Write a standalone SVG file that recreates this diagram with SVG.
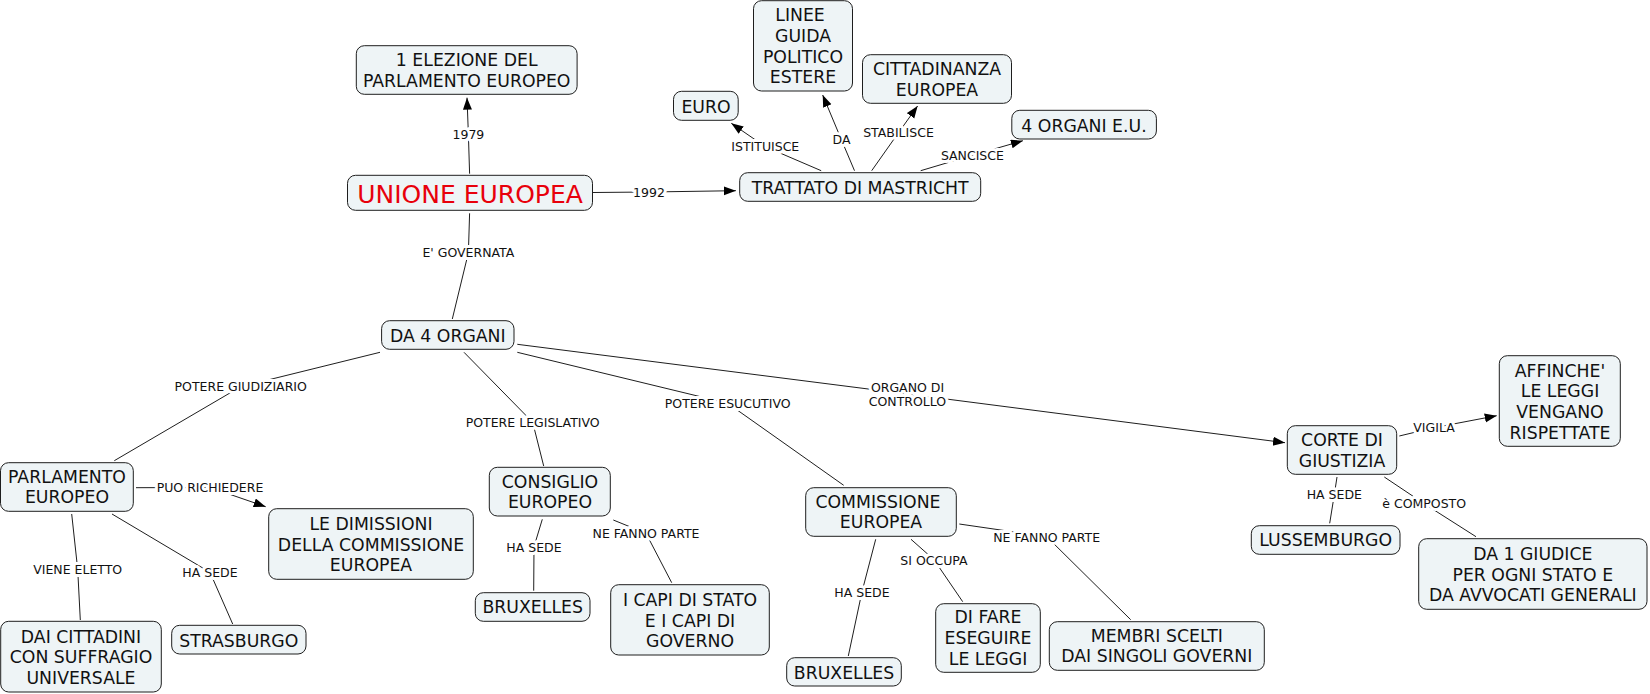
<svg xmlns="http://www.w3.org/2000/svg" width="1650" height="694" viewBox="0 0 1650 694">
<style>
.node rect{fill:#eef4f6;stroke:#1e1e1e;stroke-width:1}
.node text{font-family:"DejaVu Sans",Verdana,sans-serif;font-size:17.3px;fill:#111;text-anchor:middle}
.title{font-size:25px!important;fill:#e8000b!important}
.conn path{fill:none;stroke:#1e1e1e;stroke-width:1}
.conn .arr{marker-end:url(#ah)}
.lbl{font-family:"DejaVu Sans",Verdana,sans-serif;font-size:12.5px;fill:#111;text-anchor:middle;paint-order:stroke;stroke:#fff;stroke-width:6px;stroke-linejoin:round}
</style>
<defs>
<marker id="ah" markerUnits="userSpaceOnUse" markerWidth="13" markerHeight="10" refX="12" refY="4.5" orient="auto">
<path d="M0,0 L12,4.5 L0,9 z" fill="#000"/>
</marker>
</defs>
<rect width="1650" height="694" fill="#fff"/>
<g id="connectors" class="conn">
<path class="arr" d="M469.6,173.7 L468.4,134.7 L467,97.7"/>
<path class="arr" d="M593,192.5 L649,192 L735.9,190.7"/>
<path d="M469.6,213.3 L468.4,252.7 L452.3,319"/>
<path class="arr" d="M821.2,170.7 L765.3,146.7 L731.3,123.3"/>
<path class="arr" d="M854.5,170.7 L841.5,140 L822.7,95"/>
<path class="arr" d="M871.7,170.7 L898.5,132.7 L917.6,106"/>
<path class="arr" d="M920.7,170.7 L972.4,155.3 L1022.9,140.7"/>
<path d="M380,352.3 L240.7,386.7 L114.3,460.7"/>
<path class="arr" d="M136,487.7 L210,487.5 L265.7,506.7"/>
<path d="M71.7,514 L77.7,569.3 L80.3,620"/>
<path d="M112,514 L210,572.3 L232.7,624"/>
<path d="M464,352.3 L532.7,422.3 L543.7,466"/>
<path d="M517.3,352.3 L727.7,403.3 L843.7,485.3"/>
<path class="arr" d="M517.3,344.3 L907.5,394 L1285,442.7"/>
<path d="M542.3,519.3 L534,546.7 L533.7,590.7"/>
<path d="M613.3,520 L646,533.3 L671.7,582.7"/>
<path d="M875.7,539.3 L862,591.7 L848.3,656"/>
<path d="M911,539.3 L934,559.7 L962.7,601.7"/>
<path d="M959.3,524 L1046.7,536.7 L1130.7,619.7"/>
<path class="arr" d="M1399.3,436 L1434,427.7 L1496.7,415.7"/>
<path d="M1337,477 L1334.3,494.7 L1329.7,523.3"/>
<path d="M1384.3,477 L1424.2,503.7 L1476,536.7"/>
<text class="lbl" x="468.4" y="139.3">1979</text>
<text class="lbl" x="649" y="196.7">1992</text>
<text class="lbl" x="468.4" y="257.3">E' GOVERNATA</text>
<text class="lbl" x="765.3" y="151.3">ISTITUISCE</text>
<text class="lbl" x="841.5" y="144.3">DA</text>
<text class="lbl" x="898.5" y="137.3">STABILISCE</text>
<text class="lbl" x="972.4" y="160.3">SANCISCE</text>
<text class="lbl" x="240.7" y="391.3">POTERE GIUDIZIARIO</text>
<text class="lbl" x="210" y="492.3">PUO RICHIEDERE</text>
<text class="lbl" x="77.7" y="574.3">VIENE ELETTO</text>
<text class="lbl" x="210" y="577.3">HA SEDE</text>
<text class="lbl" x="532.7" y="427.3">POTERE LEGISLATIVO</text>
<text class="lbl" x="727.7" y="408.3">POTERE ESUCUTIVO</text>
<text class="lbl" x="907.5" y="391.7">ORGANO DI</text>
<text class="lbl" x="907.5" y="406">CONTROLLO</text>
<text class="lbl" x="534" y="551.7">HA SEDE</text>
<text class="lbl" x="646" y="538.3">NE FANNO PARTE</text>
<text class="lbl" x="862" y="596.7">HA SEDE</text>
<text class="lbl" x="934" y="564.7">SI OCCUPA</text>
<text class="lbl" x="1046.7" y="541.7">NE FANNO PARTE</text>
<text class="lbl" x="1434" y="432.3">VIGILA</text>
<text class="lbl" x="1334.3" y="499.3">HA SEDE</text>
<text class="lbl" x="1424.2" y="508.3">è COMPOSTO</text>
</g>
<g id="n_elezione" class="node"><rect x="356.3" y="45.7" width="220.8" height="48.6" rx="8"/><text x="466.7" y="66.3">1 ELEZIONE DEL</text><text x="466.7" y="86.7">PARLAMENTO EUROPEO</text></g>
<g id="n_ue" class="node"><rect x="347.5" y="175.3" width="245" height="35" rx="8"/><text class="title" x="470" y="202.5">UNIONE EUROPEA</text></g>
<g id="n_trattato" class="node"><rect x="739.7" y="172.7" width="241" height="28.6" rx="8"/><text x="860.2" y="194">TRATTATO DI MASTRICHT</text></g>
<g id="n_euro" class="node"><rect x="673.5" y="91.3" width="64.7" height="29" rx="8"/><text x="706" y="113.3">EURO</text></g>
<g id="n_linee" class="node"><rect x="753.5" y="0.7" width="99" height="90.3" rx="8"/><text x="800" y="21">LINEE</text><text x="803" y="41.7">GUIDA</text><text x="803" y="62.7">POLITICO</text><text x="803" y="83.3">ESTERE</text></g>
<g id="n_citt" class="node"><rect x="862.5" y="54.7" width="149" height="48.6" rx="8"/><text x="937" y="75.3">CITTADINANZA</text><text x="937" y="95.7">EUROPEA</text></g>
<g id="n_4org" class="node"><rect x="1011.8" y="110.3" width="144.6" height="28.7" rx="8"/><text x="1084" y="131.7">4 ORGANI E.U.</text></g>
<g id="n_da4" class="node"><rect x="381.6" y="320.7" width="132.4" height="28.6" rx="8"/><text x="447.8" y="342.3">DA 4 ORGANI</text></g>
<g id="n_parl" class="node"><rect x="0.5" y="462.7" width="132.8" height="48.6" rx="8"/><text x="67" y="482.7">PARLAMENTO</text><text x="67" y="503.3">EUROPEO</text></g>
<g id="n_dimissioni" class="node"><rect x="268.7" y="508.7" width="204.6" height="70.6" rx="8"/><text x="371" y="530">LE DIMISSIONI</text><text x="371" y="550.7">DELLA COMMISSIONE</text><text x="371" y="570.7">EUROPEA</text></g>
<g id="n_dai" class="node"><rect x="0.7" y="621.3" width="160.6" height="70.7" rx="8"/><text x="81" y="642.7">DAI CITTADINI</text><text x="81" y="663.3">CON SUFFRAGIO</text><text x="81" y="684">UNIVERSALE</text></g>
<g id="n_stras" class="node"><rect x="171.7" y="625.3" width="134.3" height="28.7" rx="8"/><text x="238.8" y="646.7">STRASBURGO</text></g>
<g id="n_consiglio" class="node"><rect x="489.3" y="467.3" width="121" height="48.7" rx="8"/><text x="550" y="488">CONSIGLIO</text><text x="550" y="508.3">EUROPEO</text></g>
<g id="n_brux1" class="node"><rect x="475.3" y="592.7" width="114.7" height="28.6" rx="8"/><text x="532.7" y="613.3">BRUXELLES</text></g>
<g id="n_capi" class="node"><rect x="610.7" y="584.7" width="158.6" height="70.3" rx="8"/><text x="690" y="606">I CAPI DI STATO</text><text x="690" y="626.7">E I CAPI DI</text><text x="690" y="646.7">GOVERNO</text></g>
<g id="n_comm" class="node"><rect x="805.7" y="487.7" width="150.6" height="48.6" rx="8"/><text x="878" y="508.3">COMMISSIONE</text><text x="881" y="528.3">EUROPEA</text></g>
<g id="n_brux2" class="node"><rect x="786.7" y="657.7" width="114.6" height="28.3" rx="8"/><text x="844" y="678.7">BRUXELLES</text></g>
<g id="n_difare" class="node"><rect x="935.7" y="603.7" width="104.6" height="68.6" rx="8"/><text x="988" y="623.3">DI FARE</text><text x="988" y="644.3">ESEGUIRE</text><text x="988" y="664.7">LE LEGGI</text></g>
<g id="n_membri" class="node"><rect x="1049.3" y="621.7" width="215" height="48.6" rx="8"/><text x="1156.8" y="641.7">MEMBRI SCELTI</text><text x="1156.8" y="662.3">DAI SINGOLI GOVERNI</text></g>
<g id="n_corte" class="node"><rect x="1287.3" y="425.7" width="109.4" height="48.6" rx="8"/><text x="1342" y="446">CORTE DI</text><text x="1342" y="466.7">GIUSTIZIA</text></g>
<g id="n_affinche" class="node"><rect x="1499.3" y="355.7" width="121" height="90.6" rx="8"/><text x="1560" y="376.7">AFFINCHE'</text><text x="1560" y="397.3">LE LEGGI</text><text x="1560" y="418">VENGANO</text><text x="1560" y="438.7">RISPETTATE</text></g>
<g id="n_lussem" class="node"><rect x="1251.3" y="525.7" width="148.7" height="28.6" rx="8"/><text x="1325.7" y="546">LUSSEMBURGO</text></g>
<g id="n_giudice" class="node"><rect x="1418.7" y="538.7" width="228.3" height="70.6" rx="8"/><text x="1532.8" y="560">DA 1 GIUDICE</text><text x="1532.8" y="580.7">PER OGNI STATO E</text><text x="1532.8" y="601.3">DA AVVOCATI GENERALI</text></g>
</svg>
